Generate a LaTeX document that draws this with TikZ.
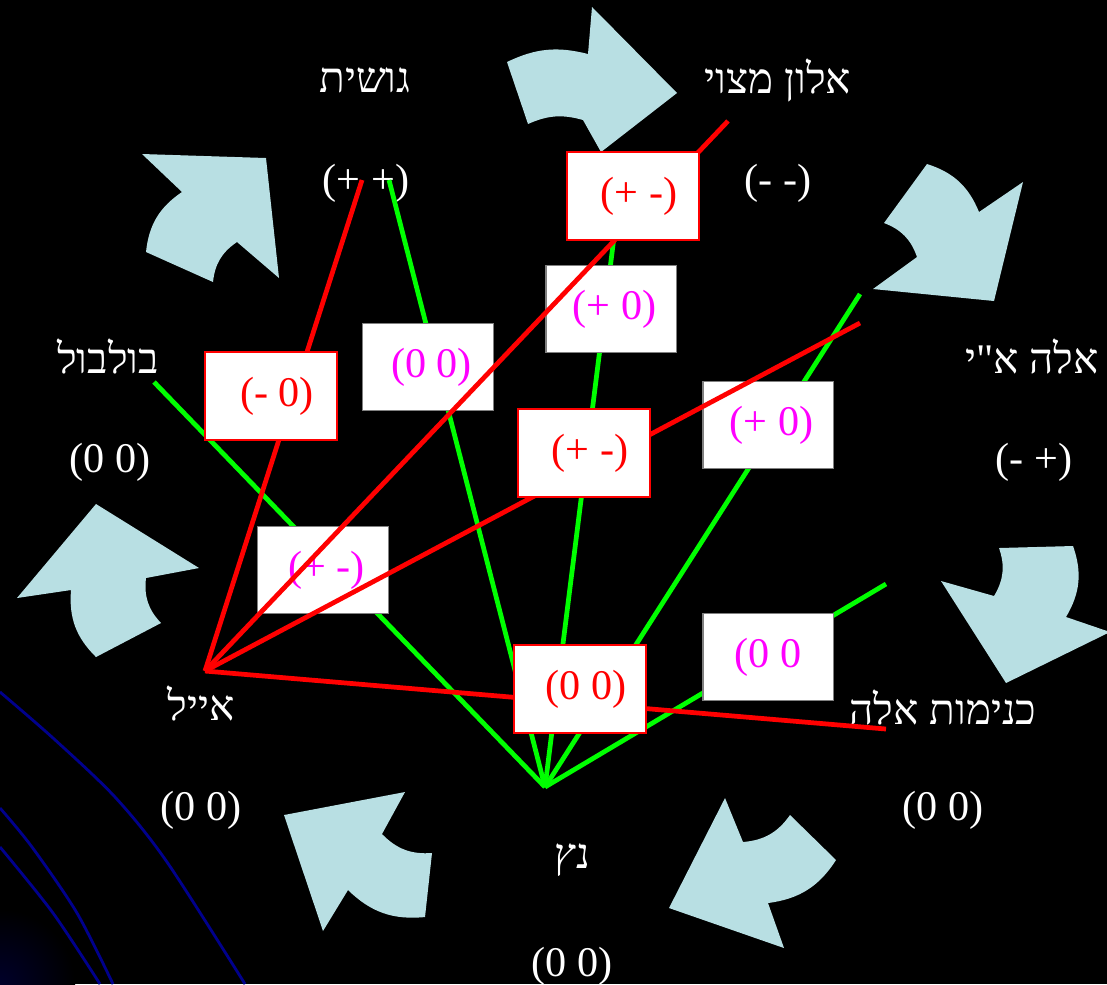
\documentclass[tikz,border=0pt]{standalone}
\usepackage{fontspec}
\setmainfont{Liberation Serif}
\newfontfamily\hebfont[Script=Hebrew]{Liberation Serif}
\TeXXeTstate=1
\usetikzlibrary{positioning}
\definecolor{arrowblue}{RGB}{184,223,227}
\definecolor{navyline}{RGB}{0,0,140}
\definecolor{linkred}{RGB}{255,0,0}
\definecolor{linkgreen}{RGB}{0,255,0}
\definecolor{pinktext}{RGB}{255,0,255}
\tikzset{
  tag/.style={text=white,inner sep=0pt},
  heb/.style={tag,font=\fontsize{12}{14}\selectfont\hebfont},
  boxbase/.style={fill=white,inner sep=0pt},
  redbox/.style={boxbase,draw=linkred,line width=0.6pt,text=linkred,
            minimum width=1.32cm,minimum height=0.88cm,
            execute at begin node={\hskip0.12cm}},
  pinkbox/.style={boxbase,draw=gray,line width=0.3pt,text=pinktext,
            minimum width=1.30cm,minimum height=0.87cm,
            execute at begin node={\hskip0.07cm}},
  redline/.style={linkred,line width=1.35pt},
  greenline/.style={linkgreen,line width=1.35pt},
  cyclearrow/.style={fill=arrowblue},
  bgcurve/.style={navyline,line width=0.8pt},
}
\begin{document}
\begin{tikzpicture}[x=0.01cm,y=-0.01cm,
                    every node/.style={font=\fontsize{12}{14}\selectfont}]
  \fill[black] (0,0) rectangle (1107,984);
  \useasboundingbox (0,0) rectangle (1107,984);
  % --- background swirl, bottom left ---
  \shade[inner color=navyline!30!black,outer color=black] (0,984) circle[radius=0.75cm];
  \draw[bgcurve] plot[smooth] coordinates {(0,692) (53,738) (115,797) (167,862) (245,984)};
  \draw[bgcurve] plot[smooth] coordinates {(0,808) (32,847) (77,913) (113,984)};
  \draw[bgcurve] plot[smooth] coordinates {(0,847) (53,913) (100,984)};
  % --- curved arrows round the cycle ---
  \fill[cyclearrow] (142,154) -- (266,158) -- (279,278) -- (237,242)
      to[bend right=25] (213,282) -- (146,252) to[bend left=25] (182,192) -- cycle;
  \fill[cyclearrow] (507,62) to[bend left=20] (588,54) -- (592,7) -- (677,93)
      -- (601,152) -- (583,120) to[bend right=20] (528,124) -- cycle;
  \fill[cyclearrow] (927,164) to[bend left=25] (979,212) -- (1023,182) -- (994,301)
      -- (873,289) -- (917,257) to[bend right=25] (884,223) -- cycle;
  \fill[cyclearrow] (994,596) to[bend right=25] (999,548) -- (1073,546)
      to[bend left=25] (1066,617) -- (1110,632) -- (1006,683) -- (941,581) -- cycle;
  \fill[cyclearrow] (743,842) to[bend right=25] (790,815) -- (836,860)
      to[bend left=25] (768,903) -- (784,948) -- (669,908) -- (725,798) -- cycle;
  \fill[cyclearrow] (405,792) -- (382,834) to[bend right=25] (432,853) -- (425,917)
      to[bend left=25] (348,890) -- (323,931) -- (284,815) -- cycle;
  \fill[cyclearrow] (96,504) -- (199,568) -- (146,578) to[bend right=25] (161,623)
      -- (96,657) to[bend left=25] (71,590) -- (17,598) -- cycle;
  % --- names and values ---
  \node[heb] (goshT) at (365,80) {\beginR גושית\endR};
  \node[tag] (goshV) at (366,183) {(+ +)};
  \node[heb] (alonT) at (778,80) {\beginR אלון מצוי\endR};
  \node[tag] (alonV) at (778,183) {(- -)};
  \node[heb] (elaT) at (1032,356) {\beginR אלה א"י\endR};
  \node[tag] (elaV) at (1034,462) {(- +)};
  \node[heb] (kniT) at (943,707) {\beginR כנימות אלה\endR};
  \node[tag] (kniV) at (943,810) {(0 0)};
  \node[heb] (nezT) at (572,860) {\beginR נץ\endR};
  \node[tag] (nezV) at (572,966) {(0 0)};
  \node[heb] (ayalT) at (201,703) {\beginR אייל\endR};
  \node[tag] (ayalV) at (201,810) {(0 0)};
  \node[heb] (bulT) at (108,356) {\beginR בולבול\endR};
  \node[tag] (bulV) at (110,462) {(0 0)};
  % --- end points of the links ---
  \coordinate (ayal) at (205,671);
  \coordinate (nez) at (545,787);
  \coordinate (goshR) at (362,180);
  \coordinate (goshG) at (389,180);
  \coordinate (alonR) at (728,121);
  \coordinate (alonG) at (618,205);
  \coordinate (elaR) at (860,323);
  \coordinate (elaG) at (860,294);
  \coordinate (kniR) at (886,729);
  \coordinate (kniG) at (886,584);
  \coordinate (bul) at (154,382);
  % --- green links ---
  \foreach \t in {bul,goshG,alonG,elaG,kniG}
    \draw[greenline] (nez) -- (\t);
  % --- pink boxes ---
  \node[pinkbox] (bPlusA) at (611,309) {(+ 0)};
  \node[pinkbox] (bZeroA) at (428,367) {(0 0)};
  \node[pinkbox] (bPlusB) at (768,425) {(+ 0)};
  \node[pinkbox] (bMixA) at (323,570) {(+ -)};
  \node[pinkbox,execute at begin node={\hskip-0.07cm}] (bZeroB) at (768,657) {(0 0};
  % --- red links ---
  \foreach \t in {goshR,alonR,elaR,kniR}
    \draw[redline] (ayal) -- (\t);
  % --- red boxes ---
  \node[redbox] (bAlon) at (633,196) {(+ -)};
  \node[redbox] (bMinus) at (271,396) {(- 0)};
  \node[redbox] (bEla) at (584,453) {(+ -)};
  \node[redbox] (bKni) at (580,689) {(0 0)};
\end{tikzpicture}
\end{document}
